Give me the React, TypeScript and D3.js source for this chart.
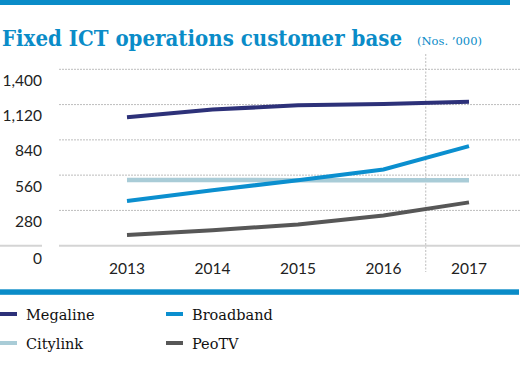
import React from "react";
import * as d3 from "d3";

const years = [2013, 2014, 2015, 2016, 2017];
const yTicks = [0, 280, 560, 840, 1120, 1400];
const megaline = [1019, 1080, 1115, 1125, 1143];
const broadband = [355, 440, 520, 605, 790];
const citylink = [521, 521, 520, 520, 519];
const peotv = [85, 122, 169, 240, 344];

const seriesNames = ["Megaline", "Broadband", "Citylink", "PeoTV"];
const seriesColors = ["#2d3179", "#0b8fcf", "#a9ccd7", "#575757"];
const seriesData = [megaline, broadband, citylink, peotv];
const drawOrder = [2, 0, 1, 3];

export default function App() {
  const W = 520;
  const H = 377;
  const x = d3.scaleLinear().domain([2013, 2017]).range([127, 469]);
  const y = d3.scaleLinear().domain([0, 1400]).range([245.7, 69.3]);
  const line = d3
    .line<number>()
    .x((_, i) => x(years[i]))
    .y((d) => y(d))
    .curve(d3.curveLinear);

  const legendPos = [
    [0, 314],
    [166, 314],
    [0, 343],
    [166, 343],
  ];

  return (
    <svg
      width={W}
      height={H}
      style={{ position: "absolute", left: 0, top: 0, background: "#fff" }}
    >
      <rect x={0} y={0} width={510} height={5} fill="#0a8cc8" />
      <text
        x={2}
        y={45.5}
        fontFamily="DejaVu Serif Condensed, DejaVu Serif"
        fontStretch="condensed"
        fontWeight="bold"
        fontSize={23}
        fill="#0a8cc8"
        textLength={400}
        lengthAdjust="spacingAndGlyphs"
      >
        Fixed ICT operations customer base
      </text>
      <text
        x={417}
        y={45}
        fontFamily="DejaVu Serif Condensed, DejaVu Serif"
        fontStretch="condensed"
        fontSize={11.5}
        fill="#0a8cc8"
        textLength={65}
        lengthAdjust="spacingAndGlyphs"
      >
        (Nos. ’000)
      </text>

      {/* vertical dotted divider */}
      <line
        x1={425.7}
        x2={425.7}
        y1={54}
        y2={272}
        stroke="#c8c8c8"
        strokeWidth={1.2}
        strokeDasharray="2,1.5"
      />

      {/* gridlines */}
      {yTicks
        .filter((t) => t > 0)
        .map((t) => (
          <line
            key={t}
            x1={59}
            x2={520}
            y1={y(t)}
            y2={y(t)}
            stroke="#bdbdbd"
            strokeWidth={1}
            strokeDasharray="2,1"
          />
        ))}
      <line x1={0} x2={42} y1={y(0)} y2={y(0)} stroke="#d4d4d4" strokeWidth={2} />
      <line x1={59} x2={520} y1={y(0)} y2={y(0)} stroke="#d4d4d4" strokeWidth={2} />

      {/* y tick labels */}
      {yTicks.map((t) => (
        <text
          key={t}
          x={42}
          y={y(t) + (t === 0 ? 18 : 16.5)}
          textAnchor="end"
          fontFamily="Lato"
          fontSize={15.5}
          fill="#222"
        >
          {d3.format(",")(t)}
        </text>
      ))}

      {/* x labels */}
      {years.map((yr) => (
        <text
          key={yr}
          x={x(yr)}
          y={273.5}
          textAnchor="middle"
          fontFamily="Lato"
          fontSize={15.5}
          fill="#222"
        >
          {yr}
        </text>
      ))}

      {/* lines */}
      {drawOrder.map((i) => (
        <path
          key={seriesNames[i]}
          d={line(seriesData[i]) || ""}
          fill="none"
          stroke={seriesColors[i]}
          strokeWidth={i === 2 ? 4.5 : 4}
        />
      ))}

      {/* bottom bar */}
      <rect x={0} y={289.3} width={519} height={5.5} fill="#0a8cc8" />

      {/* legend */}
      {seriesNames.map((name, i) => (
        <g key={name} transform={`translate(${legendPos[i][0]},${legendPos[i][1]})`}>
          <rect x={0} y={-2} width={17} height={4} fill={seriesColors[i]} />
          <text
            x={26}
            y={5.5}
            fontFamily="DejaVu Serif"
            fontSize={14.5}
            fill="#111"
          >
            {name}
          </text>
        </g>
      ))}
    </svg>
  );
}
